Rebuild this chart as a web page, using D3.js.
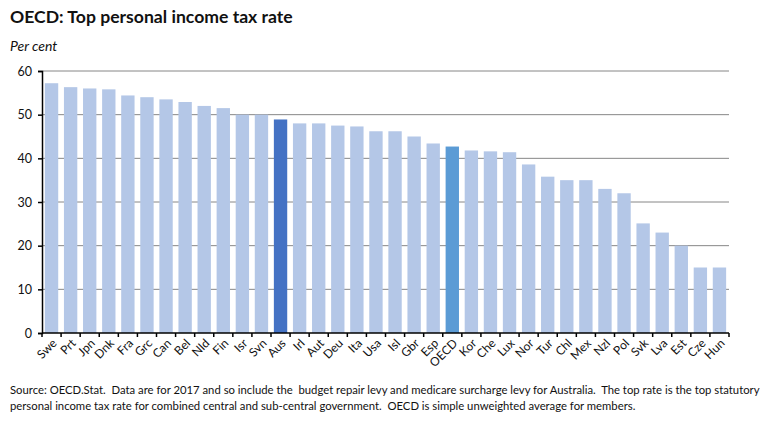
<!DOCTYPE html>
<html>
<head>
<meta charset="utf-8">
<script src="https://cdn.jsdelivr.net/npm/d3@7"></script>
<style>
  body { margin: 0; background: #fff; }
  svg { font-family: Lato, "Open Sans", sans-serif; }
</style>
</head>
<body>
<svg width="768" height="424"></svg>
<script>
// chart data
const countries = ['Swe', 'Prt', 'Jpn', 'Dnk', 'Fra', 'Grc', 'Can', 'Bel', 'Nld', 'Fin', 'Isr', 'Svn',
  'Aus', 'Irl', 'Aut', 'Deu', 'Ita', 'Usa', 'Isl', 'Gbr', 'Esp', 'OECD', 'Kor', 'Che', 'Lux', 'Nor',
  'Tur', 'Chl', 'Mex', 'Nzl', 'Pol', 'Svk', 'Lva', 'Est', 'Cze', 'Hun'];
const topRate = [57.2, 56.3, 56.0, 55.8, 54.4, 54.0, 53.5, 52.9, 52.0, 51.5, 50.0, 50.0,
  48.9, 48.0, 48.0, 47.5, 47.3, 46.2, 46.2, 45.0, 43.4, 42.7, 41.8, 41.6, 41.4, 38.6,
  35.8, 35.0, 35.0, 33.0, 32.0, 25.1, 23.0, 20.0, 15.0, 15.0];
const yTicks = [0, 10, 20, 30, 40, 50, 60];

const svg = d3.select('svg');

const plotLeft = 42, plotRight = 729, plotTop = 71, plotBottom = 333;

const x = d3.scaleBand()
  .domain(countries)
  .range([plotLeft, plotRight])
  .paddingInner(0.3)
  .paddingOuter(0.15);

const y = d3.scaleLinear()
  .domain([0, 60])
  .range([plotBottom, plotTop]);

// title + unit
svg.append('text')
  .attr('x', 10).attr('y', 23)
  .attr('font-size', 17.6)
  .attr('font-weight', 'bold')
  .attr('fill', '#111')
  .text('OECD: Top personal income tax rate');

svg.append('text')
  .attr('x', 10).attr('y', 51)
  .attr('font-size', 14)
  .attr('font-style', 'italic')
  .attr('fill', '#111')
  .text('Per cent');

// gridlines
svg.append('g')
  .selectAll('line')
  .data(yTicks.filter(d => d > 0))
  .join('line')
  .attr('x1', plotLeft).attr('x2', plotRight)
  .attr('y1', d => y(d)).attr('y2', d => y(d))
  .attr('stroke', '#868686')
  .attr('stroke-width', 1);

// bars
const barColor = d => d === 'Aus' ? '#4472c4' : d === 'OECD' ? '#5b9bd5' : '#b4c7e7';

svg.append('g')
  .selectAll('rect')
  .data(countries)
  .join('rect')
  .attr('x', d => x(d))
  .attr('width', x.bandwidth())
  .attr('y', (d, i) => y(topRate[i]))
  .attr('height', (d, i) => y(0) - y(topRate[i]))
  .attr('fill', barColor);

// y axis
const yAxis = svg.append('g')
  .attr('transform', `translate(${plotLeft},0)`)
  .call(d3.axisLeft(y).tickValues(yTicks).tickSize(4).tickPadding(6));
yAxis.select('.domain').attr('stroke', '#000').attr('stroke-width', 1.5);
yAxis.selectAll('.tick line').attr('stroke', '#000').attr('stroke-width', 1.5);
yAxis.selectAll('.tick text')
  .attr('font-family', 'Lato, sans-serif')
  .attr('font-size', 12.5)
  .attr('fill', '#111');

// x axis: ticks sit at band boundaries
const step = x.step();
const boundaries = d3.range(countries.length + 1).map(i => plotLeft + i * step);

svg.append('g')
  .selectAll('line')
  .data(boundaries)
  .join('line')
  .attr('x1', d => d).attr('x2', d => d)
  .attr('y1', plotBottom).attr('y2', plotBottom + 4)
  .attr('stroke', '#000')
  .attr('stroke-width', 1.5);

svg.append('line')
  .attr('x1', plotLeft).attr('x2', plotRight)
  .attr('y1', plotBottom).attr('y2', plotBottom)
  .attr('stroke', '#000')
  .attr('stroke-width', 1.5);

svg.append('g')
  .selectAll('text')
  .data(countries)
  .join('text')
  .attr('transform', d => `translate(${x(d) + x.bandwidth() / 2 + 6},${plotBottom + 11}) rotate(-45)`)
  .attr('text-anchor', 'end')
  .attr('font-size', 12)
  .attr('fill', '#111')
  .text(d => d);

// source note
const notes = [
  'Source: OECD.Stat.  Data are for 2017 and so include the  budget repair levy and medicare surcharge levy for Australia.  The top rate is the top statutory',
  'personal income tax rate for combined central and sub-central government.  OECD is simple unweighted average for members.'
];
svg.append('g')
  .selectAll('text')
  .data(notes)
  .join('text')
  .attr('x', 10)
  .attr('y', (d, i) => 394 + i * 16)
  .attr('font-size', 11.3)
  .attr('fill', '#111')
  .attr('xml:space', 'preserve')
  .text(d => d);
</script>
</body>
</html>
